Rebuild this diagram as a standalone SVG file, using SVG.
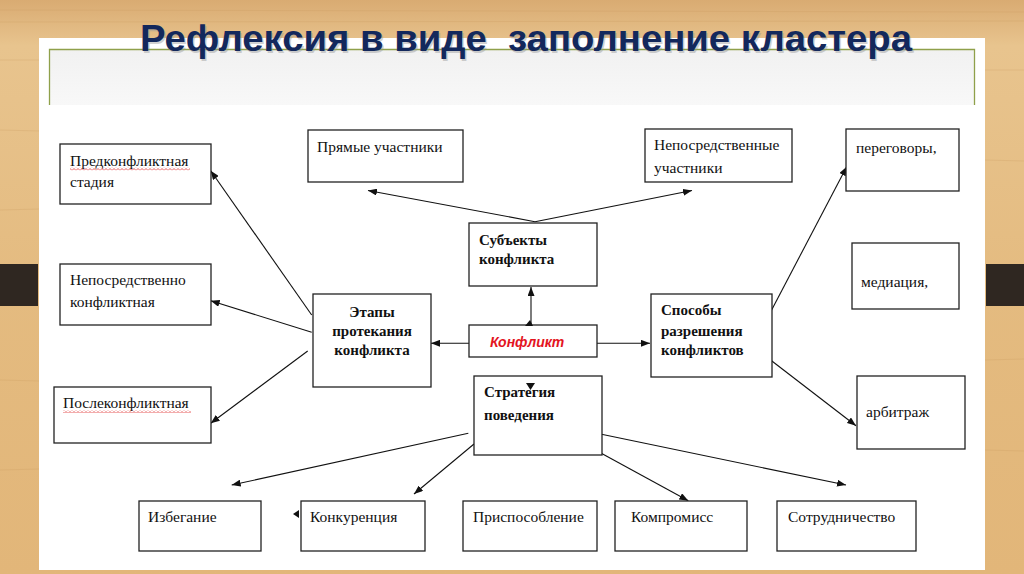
<svg xmlns="http://www.w3.org/2000/svg" width="1024" height="574" viewBox="0 0 1024 574">
<defs>
<linearGradient id="wood" x1="0" y1="0" x2="0" y2="1">
<stop offset="0" stop-color="#d9ab72"/>
<stop offset="0.08" stop-color="#e8c48e"/>
<stop offset="0.5" stop-color="#e4bb80"/>
<stop offset="1" stop-color="#e2b679"/>
</linearGradient>
<linearGradient id="topgray" x1="0" y1="0" x2="0" y2="1">
<stop offset="0" stop-color="#f1f1f1"/>
<stop offset="1" stop-color="#f8f8f8"/>
</linearGradient>
<pattern id="wave" width="4" height="3" patternUnits="userSpaceOnUse">
<path d="M0,2.5 L2,0.5 L4,2.5" stroke="#e03030" stroke-width="0.8" fill="none"/>
</pattern>
<marker id="arr" markerWidth="9" markerHeight="7" refX="9" refY="3.5" orient="auto" markerUnits="userSpaceOnUse">
<path d="M0,0 L9,3.5 L0,7 Z" fill="#111"/>
</marker>
<style>
.box{fill:#fff;stroke:#222;stroke-width:1.3}
.t{font-family:"Liberation Serif","Times New Roman",serif;font-size:15.5px;fill:#111}
.b{font-family:"Liberation Serif","Times New Roman",serif;font-size:15px;font-weight:bold;fill:#111}
.c{stroke:#111;stroke-width:1.1;fill:none;marker-end:url(#arr)}
</style>
</defs>
<rect x="0" y="0" width="1024" height="574" fill="url(#wood)"/>
<g stroke="#c99a5e" stroke-width="1" opacity="0.25">
<line x1="0" y1="60" x2="40" y2="60"/><line x1="0" y1="130" x2="40" y2="131"/><line x1="0" y1="210" x2="40" y2="209"/><line x1="0" y1="380" x2="40" y2="381"/><line x1="0" y1="470" x2="40" y2="469"/>
<line x1="985" y1="70" x2="1024" y2="70"/><line x1="985" y1="160" x2="1024" y2="161"/><line x1="985" y1="360" x2="1024" y2="359"/><line x1="985" y1="450" x2="1024" y2="451"/>
<line x1="0" y1="10" x2="1024" y2="12"/><line x1="0" y1="22" x2="1024" y2="21"/>
</g>
<rect x="0" y="264" width="38" height="42" fill="#2f2721"/>
<rect x="986" y="264" width="38" height="42" fill="#2f2721"/>
<rect x="39" y="38" width="946" height="532" fill="#fff"/>
<rect x="49" y="49" width="926" height="56" fill="url(#topgray)"/>
<path d="M49.5,105 V49.5 H974.5 V105" fill="none" stroke="#8fa04a" stroke-width="1.3"/>
<text x="141.5" y="52.5" font-family="'Liberation Sans',Arial,sans-serif" font-size="36" font-weight="bold" fill="#9a9a9a" opacity="0.45" textLength="772" lengthAdjust="spacingAndGlyphs">Рефлексия в виде&#160; заполнение кластера</text>
<text x="140" y="51" font-family="'Liberation Sans',Arial,sans-serif" font-size="36" font-weight="bold" fill="#13285c" textLength="772" lengthAdjust="spacingAndGlyphs">Рефлексия в виде&#160; заполнение кластера</text>

<g id="connectors">
<line class="c" x1="311.7" y1="315" x2="210.7" y2="170.7"/>
<line class="c" x1="311.7" y1="332.3" x2="210.7" y2="300.7"/>
<line class="c" x1="307.7" y1="351" x2="210.7" y2="423.3"/>
<line class="c" x1="535" y1="221.7" x2="368" y2="190.5"/>
<line class="c" x1="535" y1="221.7" x2="692" y2="190.5"/>
<line class="c" x1="531" y1="325" x2="531" y2="287"/>
<line class="c" x1="469" y1="343.3" x2="431" y2="343.3"/>
<line class="c" x1="597" y1="343.3" x2="650" y2="343.3"/>
<line class="c" x1="769" y1="315" x2="846.7" y2="166.7"/>
<line class="c" x1="768.3" y1="358.3" x2="856" y2="425.7"/>
<line class="c" x1="468.3" y1="433.3" x2="231.7" y2="485"/>
<line class="c" x1="474" y1="444" x2="414" y2="494"/>
<line class="c" x1="596.7" y1="450.7" x2="688.3" y2="500.7"/>
<line class="c" x1="596.7" y1="433.3" x2="846" y2="485"/>
</g>

<g id="pre"><rect class="box" x="60" y="144" width="151" height="60"/><text class="t" x="70" y="166">Предконфликтная</text><rect x="70" y="167.5" width="120" height="3" fill="url(#wave)"/><text class="t" x="70" y="187">стадия</text></g>
<g id="direct"><rect class="box" x="60" y="264" width="151" height="61"/><text class="t" x="70" y="285">Непосредственно</text><text class="t" x="70" y="307">конфликтная</text></g>
<g id="post"><rect class="box" x="54" y="387" width="157" height="56"/><text class="t" x="63" y="408">Послеконфликтная</text><rect x="63" y="410" width="128" height="3" fill="url(#wave)"/></g>
<g id="etapy"><rect class="box" x="313" y="294" width="118" height="93"/><text class="b" x="372" y="317" text-anchor="middle">Этапы</text><text class="b" x="372" y="336" text-anchor="middle">протекания</text><text class="b" x="372" y="355" text-anchor="middle">конфликта</text></g>
<g id="pryamye"><rect class="box" x="308" y="130" width="155" height="52"/><text class="t" x="317" y="152">Прямые участники</text></g>
<g id="subj"><rect class="box" x="469" y="223" width="128" height="63"/><text class="b" x="479" y="245">Субъекты</text><text class="b" x="479" y="264">конфликта</text></g>
<g id="konflikt"><rect class="box" x="469" y="325" width="128" height="32"/><text x="490" y="347" font-family="'Liberation Sans',Arial,sans-serif" font-size="14" font-weight="bold" font-style="italic" fill="#e3141e">Конфликт</text><path d="M525,326 L533,326 L530,320 Z" fill="#111"/></g>
<g id="strat"><rect class="box" x="474" y="376" width="128" height="79"/><text class="b" x="484" y="397">Стратегия</text><text class="b" x="484" y="420">поведения</text><path d="M526,383 L535,383 L530.5,390 Z" fill="#111"/></g>
<g id="neposr"><rect class="box" x="645" y="129" width="147" height="53"/><text class="t" x="654" y="150">Непосредственные</text><text class="t" x="654" y="173">участники</text></g>
<g id="peregovory"><rect class="box" x="846" y="129" width="113" height="62"/><text class="t" x="856" y="153">переговоры,</text></g>
<g id="mediacia"><rect class="box" x="852" y="243" width="107" height="66"/><text class="t" x="861" y="287">медиация,</text></g>
<g id="sposoby"><rect class="box" x="651" y="294" width="121" height="83"/><text class="b" x="661" y="315">Способы</text><text class="b" x="661" y="336">разрешения</text><text class="b" x="661" y="355">конфликтов</text></g>
<g id="arbitrazh"><rect class="box" x="857" y="376" width="108" height="73"/><text class="t" x="866" y="417">арбитраж</text></g>
<g id="izbeg"><rect class="box" x="139" y="501" width="122" height="50"/><text class="t" x="148" y="522">Избегание</text></g>
<g id="konkur"><rect class="box" x="301" y="501" width="124" height="50"/><text class="t" x="310" y="522">Конкуренция</text><path d="M293,514 L299,510 L299,518 Z" fill="#111"/></g>
<g id="prispos"><rect class="box" x="463" y="501" width="134" height="50"/><text class="t" x="473" y="522">Приспособление</text></g>
<g id="komprom"><rect class="box" x="615" y="501" width="132" height="50"/><text class="t" x="631" y="522">Компромисс</text></g>
<g id="sotrud"><rect class="box" x="777" y="501" width="139" height="50"/><text class="t" x="788" y="522">Сотрудничество</text></g>
</svg>
